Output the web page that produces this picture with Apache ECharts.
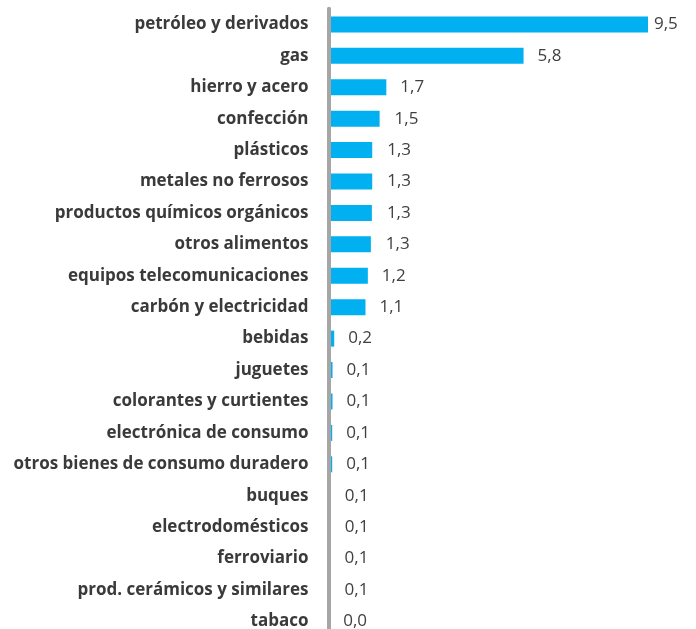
<!DOCTYPE html>
<html>
<head>
<meta charset="utf-8">
<script src="https://cdn.jsdelivr.net/npm/echarts@6/dist/echarts.min.js"></script>
<style>html,body{margin:0;padding:0;background:#fff}#c{width:696px;height:629px}</style>
</head>
<body>
<div id="c"></div>
<script>
var categories = ["petróleo y derivados","gas","hierro y acero","confección","plásticos","metales no ferrosos","productos químicos orgánicos","otros alimentos","equipos telecomunicaciones","carbón y electricidad","bebidas","juguetes","colorantes y curtientes","electrónica de consumo","otros bienes de consumo duradero","buques","electrodomésticos","ferroviario","prod. cerámicos y similares","tabaco"];
var values = [9.5, 5.8, 1.72, 1.52, 1.30, 1.30, 1.29, 1.26, 1.17, 1.10, 0.17, 0.12, 0.12, 0.11, 0.11, 0.07, 0.07, 0.06, 0.06, 0.02];
var labelDistances = [6, 14, 14, 15, 15, 15, 15, 15, 14, 14, 14, 14, 14, 14, 14, 14, 14, 14, 14, 14];

var chart = echarts.init(document.getElementById('c'), null, {renderer: 'canvas'});
var data = values.map(function (v, i) {
  return {value: v, label: {distance: labelDistances[i]}};
});
chart.setOption({
  animation: false,
  grid: {left: 328.5, width: 336.3, top: 8.7, height: 628.4, containLabel: false, outerBoundsMode: 'none'},
  xAxis: {
    type: 'value', min: 0, max: 10, show: false
  },
  yAxis: {
    type: 'category', data: categories, inverse: true, z: 3,
    axisLine: {show: true, lineStyle: {color: '#a6a6a6', width: 4}},
    axisTick: {show: false},
    axisLabel: {
      margin: 20, color: '#3a3a3a', fontFamily: 'Open Sans', fontWeight: 'bold', fontSize: 17
    }
  },
  series: [{
    type: 'bar', data: data, barWidth: 16,
    itemStyle: {color: '#00b0f0'},
    label: {
      show: true, position: 'right', color: '#404040', fontFamily: 'Open Sans', fontSize: 17,
      formatter: function (p) { return p.value.toFixed(1).replace('.', ','); }
    }
  }]
});
</script>
</body>
</html>
